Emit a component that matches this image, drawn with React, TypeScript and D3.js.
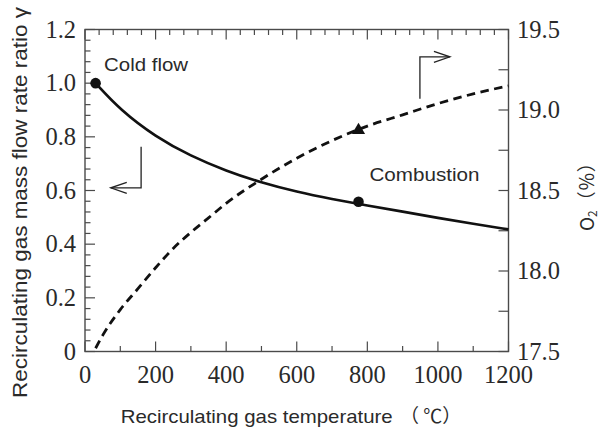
import * as d3 from 'd3';

// Temperature samples (°C)
const tempsGamma = [30, 100, 200, 300, 400, 500, 600, 700, 800, 900, 1000, 1100, 1200];
// Recirculating gas mass flow rate ratio γ (left axis, solid)
const gammaValues = [1.0, 0.9, 0.8, 0.728, 0.673, 0.629, 0.595, 0.568, 0.544, 0.521, 0.498, 0.476, 0.455];

const tempsO2 = [30, 50, 100, 150, 200, 250, 300, 350, 400, 500, 600, 700, 800, 900, 1000, 1100, 1200];
// O2 concentration (%) (right axis, dashed)
const o2Values = [17.52, 17.6, 17.76, 17.89, 18.02, 18.14, 18.24, 18.33, 18.42, 18.57, 18.7, 18.81, 18.9, 18.97, 19.04, 19.1, 19.15];

// Measured points
const coldFlowPoint = { t: 30, gamma: 1.0 };
const combustionPoint = { t: 775, gamma: 0.558 };
const combustionO2Point = { t: 775, o2: 18.88 };

const xTicks = [0, 200, 400, 600, 800, 1000, 1200];
const yLeftTicks = [0, 0.2, 0.4, 0.6, 0.8, 1.0, 1.2];
const yRightTicks = [17.5, 18.0, 18.5, 19.0, 19.5];

const W = 602;
const H = 428;
const PLOT = { left: 85, right: 508.5, top: 29.5, bottom: 351.5 };

const SERIF = '"Liberation Serif", "Times New Roman", serif';
const SANS = '"Liberation Sans", Arial, sans-serif';
const CJK = '"Noto Sans CJK JP", "Liberation Sans", sans-serif';

export default function App() {
  const x = d3.scaleLinear().domain([0, 1200]).range([PLOT.left, PLOT.right]);
  const yL = d3.scaleLinear().domain([0, 1.2]).range([PLOT.bottom, PLOT.top]);
  const yR = d3.scaleLinear().domain([17.5, 19.5]).range([PLOT.bottom, PLOT.top]);

  const gammaLine = d3
    .line<number>()
    .x((_, i) => x(tempsGamma[i]))
    .y(d => yL(d))
    .curve(d3.curveBasis)(gammaValues) ?? '';

  const o2Line = d3
    .line<number>()
    .x((_, i) => x(tempsO2[i]))
    .y(d => yR(d))
    .curve(d3.curveMonotoneX)(o2Values) ?? '';

  const axisColor = '#4a4a4a';
  const textColor = '#2a2a2a';

  // tick sets
  const bottomTicks = d3.range(0, 1201, 100);
  const topTicks = d3.range(0, 1201, 40);
  const leftTicks = d3.range(0, 1.2001, 0.04);
  const rightTicks = d3.range(17.5, 19.5001, 0.25);

  // annotation arrows (in data coords)
  const la = { x0: x(159), y0: yL(0.763), y1: yL(0.61), x1: x(73) };
  const ra = { x0: x(949), y0: yR(19.07), y1: yR(19.33), x1: x(1034) };

  const triSize = 12;
  const tx = x(combustionO2Point.t);
  const ty = yR(combustionO2Point.o2);

  return (
    <svg
      width={W}
      height={H}
      viewBox={`0 0 ${W} ${H}`}
      style={{ position: 'absolute', left: 0, top: 0, background: '#fff' }}
    >
      {/* frame */}
      <rect
        x={PLOT.left}
        y={PLOT.top}
        width={PLOT.right - PLOT.left}
        height={PLOT.bottom - PLOT.top}
        fill="none"
        stroke={axisColor}
        strokeWidth={1.4}
      />

      {/* bottom ticks: major 200, minor 100 */}
      {bottomTicks.map(t => (
        <line
          key={`b-${t}`}
          x1={x(t)}
          x2={x(t)}
          y1={PLOT.bottom}
          y2={PLOT.bottom - (t % 200 === 0 ? 10 : 5.5)}
          stroke={axisColor}
          strokeWidth={1.2}
        />
      ))}
      {/* top ticks: major 200, minor 40 */}
      {topTicks.map(t => (
        <line
          key={`t-${t}`}
          x1={x(t)}
          x2={x(t)}
          y1={PLOT.top}
          y2={PLOT.top + (t % 200 === 0 ? 10 : 5.5)}
          stroke={axisColor}
          strokeWidth={1.2}
        />
      ))}
      {/* left ticks: major 0.2, minor 0.04 */}
      {leftTicks.map((v, i) => (
        <line
          key={`l-${i}`}
          x1={PLOT.left}
          x2={PLOT.left + (i % 5 === 0 ? 10 : 5.5)}
          y1={yL(v)}
          y2={yL(v)}
          stroke={axisColor}
          strokeWidth={1.2}
        />
      ))}
      {/* right ticks every 0.25 */}
      {rightTicks.map((v, i) => (
        <line
          key={`r-${i}`}
          x1={PLOT.right}
          x2={PLOT.right - 10}
          y1={yR(v)}
          y2={yR(v)}
          stroke={axisColor}
          strokeWidth={1.2}
        />
      ))}

      {/* tick labels */}
      {xTicks.map(t => (
        <text
          key={`xl-${t}`}
          x={x(t)}
          y={PLOT.bottom + 31.5}
          textAnchor="middle"
          fontFamily={SERIF}
          fontSize={24.5}
          fill={textColor}
        >
          {t}
        </text>
      ))}
      {yLeftTicks.map(v => (
        <text
          key={`yl-${v}`}
          x={76}
          y={yL(v) + 8.3}
          textAnchor="end"
          fontFamily={SERIF}
          fontSize={24.5}
          fill={textColor}
        >
          {v === 0 ? '0' : v.toFixed(1)}
        </text>
      ))}
      {yRightTicks.map(v => (
        <text
          key={`yr-${v}`}
          x={517}
          y={yR(v) + 8.3}
          textAnchor="start"
          fontFamily={SERIF}
          fontSize={24.5}
          fill={textColor}
        >
          {v.toFixed(1)}
        </text>
      ))}

      {/* curves */}
      <path d={o2Line} fill="none" stroke="#111" strokeWidth={2.8} strokeDasharray="8.5 5.5" />
      <path d={gammaLine} fill="none" stroke="#111" strokeWidth={2.7} />

      {/* markers */}
      <circle cx={x(coldFlowPoint.t)} cy={yL(coldFlowPoint.gamma)} r={5.3} fill="#111" />
      <circle cx={x(combustionPoint.t)} cy={yL(combustionPoint.gamma)} r={5.3} fill="#111" />
      <polygon
        points={`${tx},${ty - triSize * 0.55} ${tx - triSize * 0.55},${ty + triSize * 0.4} ${tx + triSize * 0.55},${ty + triSize * 0.4}`}
        fill="#111"
      />

      {/* annotation text */}
      <text x={x(54)} y={yL(1.047)} fontFamily={SANS} fontSize={18.5} fill={textColor} textLength={84} lengthAdjust="spacingAndGlyphs">
        Cold flow
      </text>
      <text x={x(806)} y={yL(0.635)} fontFamily={SANS} fontSize={18.5} fill={textColor} textLength={110} lengthAdjust="spacingAndGlyphs">
        Combustion
      </text>

      {/* left-pointing arrow (γ axis) */}
      <path
        d={`M${la.x0},${la.y0} L${la.x0},${la.y1} L${la.x1},${la.y1}`}
        fill="none"
        stroke="#222"
        strokeWidth={1.3}
      />
      <path
        d={`M${la.x1 + 16},${la.y1 - 5.5} L${la.x1},${la.y1} L${la.x1 + 16},${la.y1 + 5.5}`}
        fill="none"
        stroke="#222"
        strokeWidth={1.3}
      />
      {/* right-pointing arrow (O2 axis) */}
      <path
        d={`M${ra.x0},${ra.y0} L${ra.x0},${ra.y1} L${ra.x1},${ra.y1}`}
        fill="none"
        stroke="#222"
        strokeWidth={1.3}
      />
      <path
        d={`M${ra.x1 - 16},${ra.y1 - 5.5} L${ra.x1},${ra.y1} L${ra.x1 - 16},${ra.y1 + 5.5}`}
        fill="none"
        stroke="#222"
        strokeWidth={1.3}
      />

      {/* axis titles */}
      <text x={120.7} y={423} fontFamily={SANS} fontSize={19} fill={textColor} textLength={272} lengthAdjust="spacingAndGlyphs">
        Recirculating gas temperature
      </text>
      <text x={400} y={423} fontFamily={CJK} fontSize={19} fill={textColor}>
        （ ℃）
      </text>
      <text
        transform="translate(26.5,398) rotate(-90)"
        fontFamily={SANS}
        fontSize={19.5}
        fill={textColor}
        textLength={391}
        lengthAdjust="spacingAndGlyphs"
      >
        Recirculating gas mass flow rate ratio γ
      </text>
      <text transform="translate(594,231) rotate(-90)" fontFamily={CJK} fontSize={19} fill={textColor}>
        O<tspan fontSize={12} dy={3}>2</tspan>
        <tspan dy={-3}>（％）</tspan>
      </text>
    </svg>
  );
}
